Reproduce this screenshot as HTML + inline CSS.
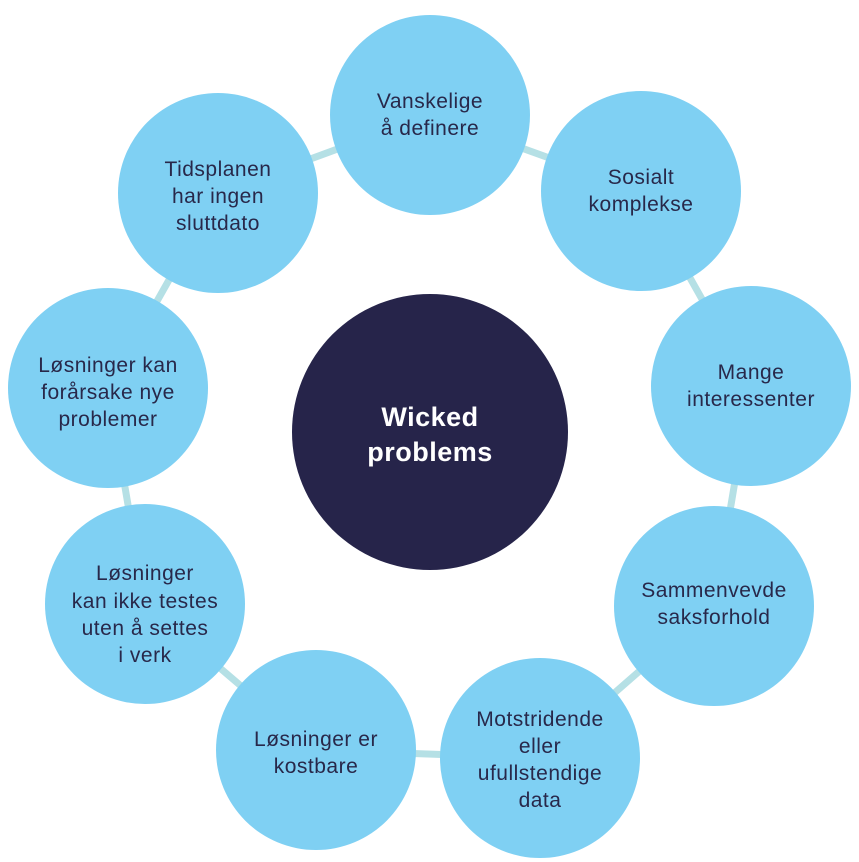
<!DOCTYPE html>
<html><head><meta charset="utf-8"><style>
html,body{margin:0;padding:0;background:#fff;}
svg{display:block;}
text{font-family:"Liberation Sans",sans-serif;font-size:21px;letter-spacing:0.5px;fill:#28284a;text-anchor:middle;}
</style></head><body>
<svg width="859" height="862" viewBox="0 0 859 862">
<polygon points="430,115 641,191 751,386 714,606 540,758 316,750 145,604 108,388 218,193" fill="none" stroke="#b5e0e5" stroke-width="7"/>
<g fill="#7fd0f3">
<circle cx="430" cy="115" r="100"/>
<circle cx="641" cy="191" r="100"/>
<circle cx="751" cy="386" r="100"/>
<circle cx="714" cy="606" r="100"/>
<circle cx="540" cy="758" r="100"/>
<circle cx="316" cy="750" r="100"/>
<circle cx="145" cy="604" r="100"/>
<circle cx="108" cy="388" r="100"/>
<circle cx="218" cy="193" r="100"/>
</g>
<circle cx="430" cy="432" r="138" fill="#26244a"/>
<text x="430" y="426" style="fill:#fff;font-weight:bold;font-size:27px;letter-spacing:0.5px">Wicked</text>
<text x="430" y="461" style="fill:#fff;font-weight:bold;font-size:27px;letter-spacing:0.5px">problems</text>
<text x="430" y="108">Vanskelige</text><text x="430" y="135">å definere</text>
<text x="641" y="184">Sosialt</text><text x="641" y="211">komplekse</text>
<text x="751" y="379">Mange</text><text x="751" y="406">interessenter</text>
<text x="714" y="597">Sammenvevde</text><text x="714" y="624">saksforhold</text>
<text x="540" y="726">Motstridende</text><text x="540" y="753">eller</text><text x="540" y="780">ufullstendige</text><text x="540" y="807">data</text>
<text x="316" y="746">Løsninger er</text><text x="316" y="773">kostbare</text>
<text x="145" y="580">Løsninger</text><text x="145" y="608">kan ikke testes</text><text x="145" y="635">uten å settes</text><text x="145" y="662">i verk</text>
<text x="108" y="372">Løsninger kan</text><text x="108" y="399">forårsake nye</text><text x="108" y="426">problemer</text>
<text x="218" y="176">Tidsplanen</text><text x="218" y="203">har ingen</text><text x="218" y="230">sluttdato</text>
</svg>
</body></html>
